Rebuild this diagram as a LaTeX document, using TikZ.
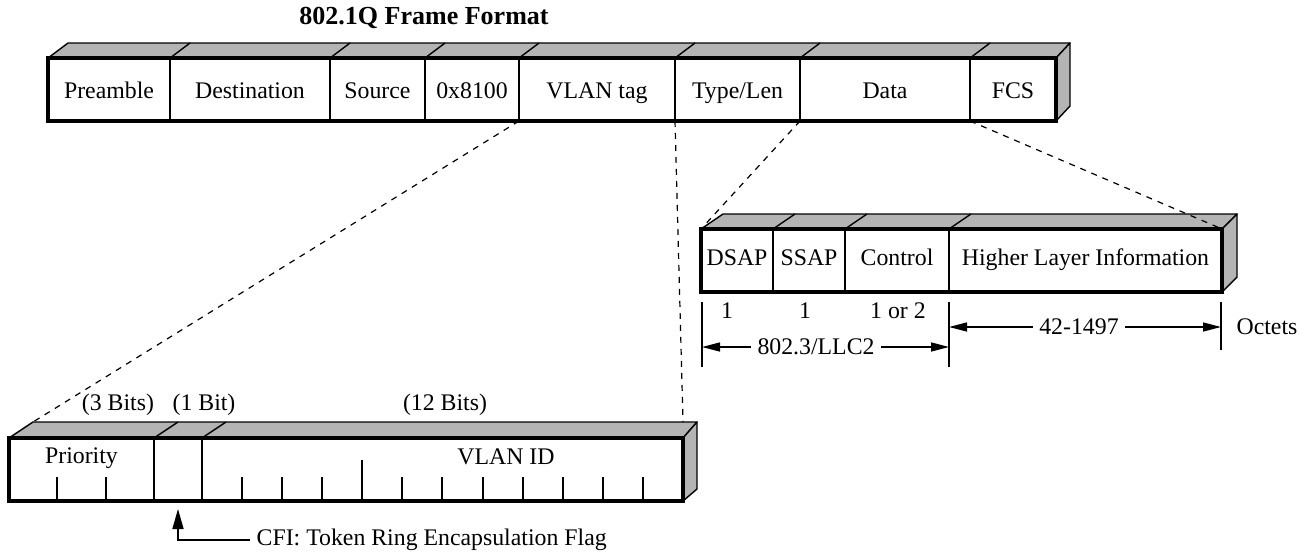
\documentclass[tikz,border=0pt]{standalone}
\usepackage{fontspec}
\setmainfont{Liberation Serif}
\usetikzlibrary{positioning}
\usetikzlibrary{arrows.meta}
\definecolor{facegray}{RGB}{180,180,180}

\begin{document}
\begin{tikzpicture}[x=0.5pt,y=-0.5pt,node distance=0pt,outer sep=0pt,
font=\fontsize{11.9}{14}\selectfont,
field/.style={
  draw,
  line width=1pt,
  inner sep=0pt,
  minimum height=31.5pt,
  text height=9pt,
  text depth=0.5pt},
llcfield/.style={field,text height=7pt,text depth=2.5pt},
bitfield/.style={field,text height=8pt,text depth=14pt},
rim/.style={draw,line width=2pt},
face/.style={fill=facegray,draw,line width=0.7pt,line join=round},
slant/.style={draw,line width=0.7pt},
tick/.style={draw,line width=1pt},
zoomline/.style={draw,line width=0.6pt,dash pattern=on 3pt off 3pt},
dim/.style={draw,line width=0.7pt,-{Triangle[length=9pt,width=4.5pt]}},
cfiarrow/.style={draw,line width=0.8pt,-{Triangle[length=10pt,width=5.5pt]}},
]
\useasboundingbox (0,0) rectangle (1312,557);

\node[font=\fontsize{13}{15}\selectfont\bfseries] (ttl) at (424,18) {802.1Q Frame Format};

% 802.1Q frame
\node[field, anchor=north west, minimum width=61pt] (pre) at (48,58) {Preamble};
\node[field, right=of pre, minimum width=80pt] (dst) {Destination};
\node[field, right=of dst, minimum width=47.5pt] (src) {Source};
\node[field, right=of src, minimum width=47pt] (tpid) {0x8100};
\node[field, right=of tpid, minimum width=78pt] (vtag) {VLAN tag};
\node[field, right=of vtag, minimum width=62.5pt] (tlen) {Type/Len};
\node[field, right=of tlen, minimum width=85pt] (data) {Data};
\node[field, right=of data, minimum width=43pt] (fcs) {FCS};
\draw[face] (pre.north west) -- ++(20,-15) -- ([shift={(14,-15)}]fcs.north east) -- (fcs.north east) -- cycle;
\draw[face] (fcs.north east) -- ++(14,-15) -- ([shift={(14,-15)}]fcs.south east) -- (fcs.south east) -- cycle;
\foreach \f in {dst,src,tpid,vtag,tlen,data,fcs}
  \draw[slant] (\f.north west) -- ++(20,-15);
\draw[rim] (pre.north west) rectangle (fcs.south east);

% LLC header
\node[llcfield, anchor=north west, minimum width=36pt] (dsap) at (701,229) {DSAP};
\node[llcfield, right=of dsap, minimum width=36pt] (ssap) {SSAP};
\node[llcfield, right=of ssap, minimum width=52pt] (ctrl) {Control};
\node[llcfield, right=of ctrl, minimum width=136.5pt] (hli) {Higher Layer Information};
\draw[face] (dsap.north west) -- ++(22,-15) -- ([shift={(15,-15)}]hli.north east) -- (hli.north east) -- cycle;
\draw[face] (hli.north east) -- ++(15,-15) -- ([shift={(15,-15)}]hli.south east) -- (hli.south east) -- cycle;
\foreach \f in {ssap,ctrl,hli}
  \draw[slant] (\f.north west) -- ++(22,-15);
\draw[rim] (dsap.north west) rectangle (hli.south east);

\coordinate (tkA) at (702,302);
\coordinate (tkB) at (949,302);
\coordinate (tkC) at (1221,302);
\draw[tick] (tkA) -- ++(0,65);
\draw[tick] (tkB) -- ++(0,65);
\draw[tick] (tkC) -- ++(0,48);
\node[anchor=base] (o1) at (727,318) {1};
\node[anchor=base] (o2) at (805,318) {1};
\node[anchor=base] (o3) at (898,318) {1 or 2};
\node (llc2) at (816,347) {802.3/LLC2};
\node (len) at (1079,327) {42-1497};
\node (oct) at (1267,327) {Octets};
\draw[dim] (llc2.west) -- (tkA |- llc2.west);
\draw[dim] (llc2.east) -- (tkB |- llc2.east);
\draw[dim] (len.west) -- (tkB |- len.west);
\draw[dim] (len.east) -- (tkC |- len.east);

% VLAN tag
\node[bitfield, anchor=north west, minimum width=72.5pt] (pri) at (9,438) {Priority};
\node[bitfield, right=of pri, minimum width=24pt] (cfi) {};
\node[bitfield, right=of cfi, minimum width=240.5pt] (vid) {};
\node[anchor=base] (vidtxt) at (506,464) {VLAN ID};
\draw[face] (pri.north west) -- ++(24,-16) -- ([shift={(14,-16)}]vid.north east) -- (vid.north east) -- cycle;
\draw[face] (vid.north east) -- ++(14,-16) -- ([shift={(14,-12)}]vid.south east) -- (vid.south east) -- cycle;
\foreach \f in {cfi,vid}
  \draw[slant] (\f.north west) -- ++(24,-16);
\foreach \i in {1,2}
  \draw[tick] (9+\i*48.33,502) -- ++(0,-25);
\foreach \i in {1,...,11}{
  \pgfmathsetmacro\h{\i==4 ? 42 : 25}
  \draw[tick] (202+\i*40.08,502) -- ++(0,-\h);
}
\draw[rim] (pri.north west) rectangle (vid.south east);
\node[anchor=base] (b3) at (118,410) {(3 Bits)};
\node[anchor=base] (b1) at (204,410) {(1 Bit)};
\node[anchor=base] (b12) at (445,410) {(12 Bits)};

\node[anchor=west] (cfitxt) at (250,540) {CFI: Token Ring Encapsulation Flag};
\draw[cfiarrow] (cfitxt.west) -| ([shift={(0,8)}]cfi.south);

% zoom lines
\draw[zoomline] (vtag.south west) -- ([shift={(24,-16)}]pri.north west);
\draw[zoomline] (vtag.south east) -- ([shift={(0,-16)}]vid.north east);
\draw[zoomline] (tlen.south east) -- (dsap.north west);
\draw[zoomline] (data.south east) -- (hli.north east);
\end{tikzpicture}
\end{document}
